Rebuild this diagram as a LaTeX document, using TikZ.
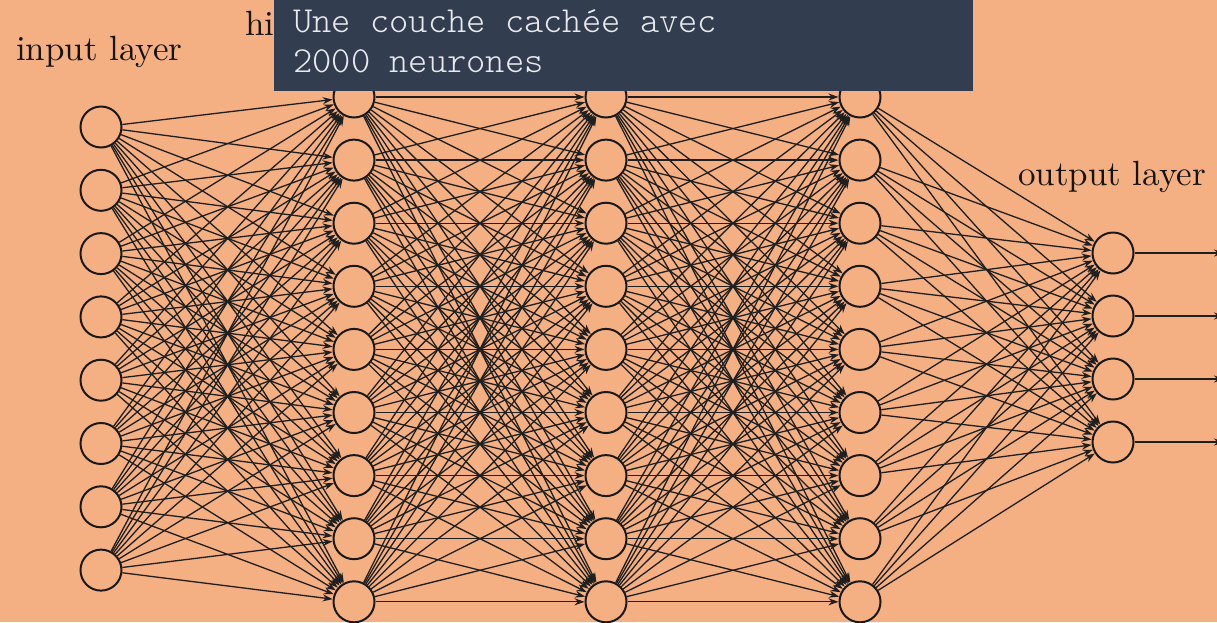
\documentclass[tikz,border=0pt]{standalone}
\usepackage{fontspec}
\newfontfamily\monofont{lmmonolt10-regular}[Extension=.otf]
\newfontfamily\cmten{lmroman10-regular}[Extension=.otf]
\usetikzlibrary{arrows.meta}
\definecolor{bg}{RGB}{244,176,131}
\definecolor{boxc}{RGB}{50,61,79}
\definecolor{txtc}{RGB}{232,234,238}
\begin{document}
\begin{tikzpicture}[x=1pt,y=-1pt,
  neuron/.style={circle,draw=black!90,line width=2pt,minimum size=41pt,inner sep=0pt,fill=bg},
  conn/.style={line width=1.3pt,draw=black!88,-{Stealth[length=10pt,width=7pt]}},
  lbl/.style={font=\cmten\fontsize{35}{40}\selectfont,text=black!92,anchor=base west,inner sep=0pt},
  mono/.style={font=\monofont\fontsize{36.7}{40}\selectfont,text=txtc,anchor=base west,inner sep=0pt}]
\useasboundingbox (0,0) rectangle (1217,622);
\fill[bg] (0,0) rectangle (1217,622);
% neurons
\foreach \i in {1,...,8} \node[neuron] (I\i) at (101,{127+(\i-1)*63.3}) {};
\foreach \j in {1,...,9} {
  \node[neuron] (A\j) at (354,{97+(\j-1)*63.1}) {};
  \node[neuron] (B\j) at (606,{97+(\j-1)*63.1}) {};
  \node[neuron] (C\j) at (860,{97+(\j-1)*63.1}) {};
}
\foreach \k in {1,...,4} {
  \node[neuron] (O\k) at (1113,{253+(\k-1)*63}) {};
  \coordinate (E\k) at (1224,{253+(\k-1)*63});
}
% connections
\foreach \i in {1,...,8} \foreach \j in {1,...,9} \draw[conn] (I\i) -- (A\j);
\foreach \i in {1,...,9} \foreach \j in {1,...,9} {
  \draw[conn] (A\i) -- (B\j);
  \draw[conn] (B\i) -- (C\j);
}
\foreach \i in {1,...,9} \foreach \k in {1,...,4} \draw[conn] (C\i) -- (O\k);
\foreach \k in {1,...,4} \draw[conn] (O\k) -- (E\k);
% labels
\node[lbl] (lin) at (16,60) {input layer};
\node[lbl] (lhid) at (245,35) {hi};
\node[lbl] (lout) at (1018,185) {output layer};
% overlay box
\node[fill=boxc,minimum width=699pt,minimum height=91pt,inner sep=0pt,anchor=north west] (box) at (274,0) {};
\node[mono] (t1) at (293,32) {Une couche cachée avec};
\node[mono] (t2) at (293,72) {2000 neurones};
\end{tikzpicture}
\end{document}
